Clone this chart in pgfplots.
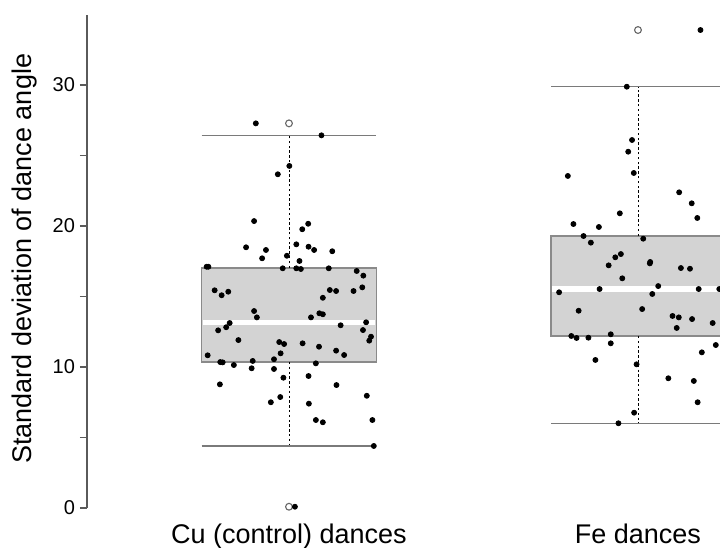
\documentclass[border=0pt]{standalone}
\usepackage{fontspec}
\setmainfont{Liberation Sans}
\usepackage{pgfplots}
\usepackage{pgfplotstable}
\pgfplotsset{compat=1.18}

\definecolor{boxfill}{HTML}{D3D3D3}
\definecolor{boxedge}{HTML}{8A8A8A}
\definecolor{capgray}{HTML}{7A7A7A}
\definecolor{axisgray}{HTML}{5A5A5A}

% jittered observations, Cu (control) group at x=1
\pgfplotstableread{
x y
0.905 27.28
1.093 26.43
1.001 24.26
0.968 23.67
0.900 20.35
1.055 20.16
1.038 19.77
0.877 18.49
1.021 18.70
1.056 18.53
1.072 18.30
0.934 18.30
1.124 18.21
0.994 17.89
0.923 17.71
1.030 17.52
0.764 17.11
0.769 17.11
0.982 17.00
1.021 17.00
1.034 16.95
1.114 17.00
1.194 16.81
1.213 16.48
0.787 15.44
0.807 15.09
0.826 15.34
1.117 15.46
1.135 15.39
1.185 15.39
1.210 15.65
1.097 14.91
0.900 13.97
0.908 13.52
1.063 13.52
1.087 13.81
1.097 13.74
0.830 13.12
0.820 12.82
0.797 12.60
1.148 12.96
1.221 13.17
1.212 12.62
1.235 12.15
1.230 11.87
0.855 11.91
0.972 11.77
0.986 11.63
1.039 11.68
1.086 11.44
1.135 11.16
1.158 10.85
0.976 10.97
0.957 10.55
0.767 10.83
0.803 10.35
0.810 10.33
0.842 10.14
0.896 10.43
1.077 10.26
0.893 9.91
0.957 9.86
0.984 9.24
1.056 9.36
0.802 8.77
1.136 8.72
1.223 7.96
0.948 7.50
0.975 7.87
1.057 7.40
1.077 6.24
1.097 6.08
1.239 6.24
1.243 4.40
1.017 0.09
}\cudots

% jittered observations, Fe group at x=2
\pgfplotstableread{
x y
2.179 33.90
1.968 29.88
1.983 26.10
1.972 25.27
1.799 23.55
1.988 23.76
2.118 22.39
2.154 21.61
2.170 20.57
1.948 20.90
1.815 20.14
1.888 19.93
1.844 19.29
1.865 18.82
2.015 19.10
1.951 18.01
1.935 17.78
1.916 17.21
2.035 17.45
2.034 17.35
2.123 17.02
2.149 16.97
1.955 16.29
1.774 15.30
1.890 15.53
2.041 15.18
2.058 15.74
2.174 15.53
2.233 15.53
1.830 13.99
2.012 14.11
2.099 13.62
2.117 13.52
2.155 13.40
2.111 12.77
2.214 13.12
1.809 12.20
1.824 12.06
1.858 12.08
1.922 12.32
1.922 11.68
2.223 11.56
2.183 11.04
1.878 10.50
1.996 10.19
2.087 9.20
2.160 9.01
2.171 7.50
1.989 6.76
1.944 6.01
}\fedots

\begin{document}
\begin{tikzpicture}
\useasboundingbox (-43.5pt,-20pt) rectangle (316.5pt,254pt);
\begin{axis}[
    scale only axis,
    width=316.5pt, height=246.75pt,
    xmin=0.4212, xmax=2.235,
    ymin=0, ymax=35,
    axis x line=bottom, axis y line=left,
    axis line style={-, axisgray, line width=0.75pt},
    x axis line style={draw=none},
    xtick={1,2},
    xticklabels={Cu (control) dances, Fe dances},
    xtick style={draw=none},
    ytick={0,10,20,30},
    minor ytick={5,15,25},
    tick align=outside,
    major tick length=3.5pt, minor tick length=3.5pt,
    ytick style={axisgray, line width=0.75pt},
    minor tick style={axisgray, line width=0.75pt},
    xticklabel style={font=\fontsize{13.5}{16}\selectfont, yshift=-0.8pt},
    yticklabel style={font=\fontsize{10}{12}\selectfont, xshift=1pt},
    ylabel={Standard deviation of dance angle},
    ylabel style={font=\fontsize{13.5}{16}\selectfont,
        at={(axis description cs:-0.098,0.505)}, anchor=center},
    /pgf/number format/assume math mode=true,
    clip=true,
]
% Cu box
\addplot[fill=boxfill, draw=boxedge, line width=0.7pt]
    coordinates {(0.75,10.36) (1.25,10.36) (1.25,17.02) (0.75,17.02)} --cycle;
\addplot[white, line width=2.8pt] coordinates {(0.753,13.15) (1.247,13.15)};
\addplot[black, line width=0.4pt, dash pattern=on 1.2pt off 1.2pt] coordinates {(1,17.02) (1,26.43)};
\addplot[black, line width=0.4pt, dash pattern=on 1.2pt off 1.2pt] coordinates {(1,10.36) (1,4.40)};
\addplot[capgray, line width=0.6pt] coordinates {(0.75,26.43) (1.25,26.43)};
\addplot[capgray, line width=0.6pt] coordinates {(0.75,4.40) (1.25,4.40)};
% Fe box
\addplot[fill=boxfill, draw=boxedge, line width=0.7pt]
    coordinates {(1.751,12.20) (2.25,12.20) (2.25,19.29) (1.751,19.29)} --cycle;
\addplot[white, line width=2.8pt] coordinates {(1.754,15.53) (2.25,15.53)};
\addplot[black, line width=0.4pt, dash pattern=on 1.2pt off 1.2pt] coordinates {(2,19.29) (2,29.88)};
\addplot[black, line width=0.4pt, dash pattern=on 1.2pt off 1.2pt] coordinates {(2,12.20) (2,6.01)};
\addplot[capgray, line width=0.6pt] coordinates {(1.751,29.88) (2.25,29.88)};
\addplot[capgray, line width=0.6pt] coordinates {(1.751,6.01) (2.25,6.01)};
% outliers
\addplot[only marks, mark=o, mark size=1.7pt, mark options={draw=gray!80!black, line width=0.55pt}]
    coordinates {(1,27.28) (1,0.09) (2,33.90)};
% points
\addplot[only marks, mark=*, mark size=1.25pt, black] table {\cudots};
\addplot[only marks, mark=*, mark size=1.25pt, black] table {\fedots};
\end{axis}
\end{tikzpicture}
\end{document}
